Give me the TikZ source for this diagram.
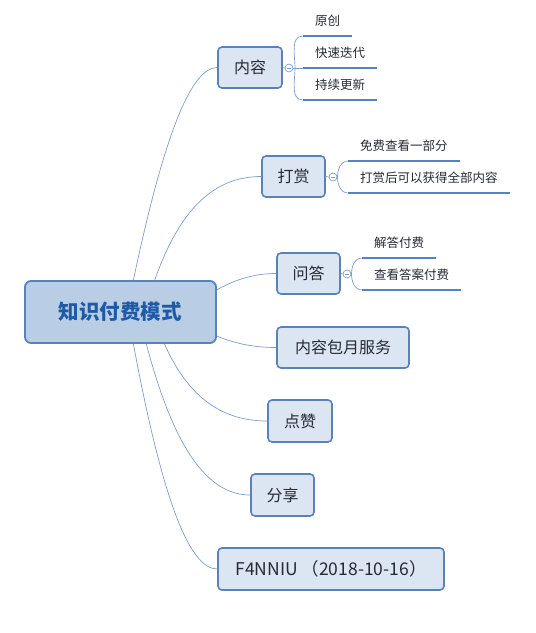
\documentclass[tikz,border=0pt]{standalone}
\usepackage{fontspec}
\setmainfont{Noto Sans CJK SC}
\definecolor{nodefill}{HTML}{DCE6F2}
\definecolor{rootfill}{HTML}{B9CDE5}
\definecolor{nodeborder}{HTML}{5A82B8}
\definecolor{roottext}{HTML}{1F5AA6}
\definecolor{nodetext}{HTML}{262A33}
\definecolor{linkcol}{HTML}{7F9DCB}
\definecolor{ulcol}{HTML}{5283C2}
\begin{document}
\begin{tikzpicture}[x=1pt,y=-1pt,
  topic/.style={draw=nodeborder,line width=1.6pt,fill=nodefill,rounded corners=4pt,
    minimum height=41pt,inner sep=0pt,text=nodetext,font=\fontsize{16}{18}\selectfont},
  rootbox/.style={draw=nodeborder,line width=1.8pt,fill=rootfill,rounded corners=6pt,
    minimum width=191pt,minimum height=62pt,inner sep=0pt,text=roottext,
    font=\fontsize{20.5}{24}\selectfont\bfseries},
  link/.style={draw=linkcol,line width=0.7pt},
  sublabel/.style={anchor=south west,inner xsep=12pt,inner ysep=0pt,text height=12pt,
    text depth=10pt,text=nodetext,font=\fontsize{12.5}{14}\selectfont},
  uline/.style={draw=ulcol,line width=2.5pt},
  fold/.style={circle,draw=linkcol,line width=0.7pt,fill=white,minimum size=8pt,inner sep=0pt}
]
\useasboundingbox (0,0) rectangle (536,633);

% root and topics
\node[rootbox] (root) at (120.5,312) {知识付费模式};
\node[topic,minimum width=64pt] (n1) at (250,67.5) {内容};
\node[topic,minimum width=63pt] (n2) at (293.5,176.5) {打赏};
\node[topic,minimum width=63pt] (n3) at (308.5,273.5) {问答};
\node[topic,minimum width=132pt] (n4) at (343,347.5) {内容包月服务};
\node[topic,minimum width=64pt,minimum height=42pt] (n5) at (300,421) {点赞};
\node[topic,minimum width=63pt,minimum height=42pt] (n6) at (282.5,495) {分享};
\node[topic,minimum width=226pt,minimum height=42pt,font=\fontsize{17.5}{20}\selectfont] (n7) at (331,569) {F4NNIU （2018-10-16）};

% root connectors
\draw[link] (root.68) .. controls +(30,-142) and +(-26.7,0) .. (n1.west);
\draw[link] (root.43.6) .. controls +(24.7,-70) and +(-48,0) .. (n2.west);
\draw[link] (root.13.5) .. controls +(19.3,-10.7) and +(-21.3,0) .. (n3.west);
\draw[link] (root.-14.1) .. controls +(19.3,8) and +(-21.3,0) .. (n4.west);
\draw[link] (root.-36.1) .. controls +(23.3,52) and +(-46.7,0) .. (n5.west);
\draw[link] (root.-51.7) .. controls +(26.7,101.3) and +(-44,0) .. (n6.west);
\draw[link] (root.-68) .. controls +(28,150.7) and +(-28.7,0) .. (n7.west);

% 内容 children
\node[fold] (f1) at (289,68) {};
\coordinate (j1) at (295,68);
\node[sublabel] (s11) at (303,36) {原创};
\node[sublabel] (s12) at (303,68) {快速迭代};
\node[sublabel] (s13) at (303,100) {持续更新};
\draw[link] (n1.east) -- (f1.west);
\draw[link] ([xshift=-2.2pt]f1.center) -- ([xshift=2.2pt]f1.center);
\draw[link] (f1.east) -- (s12.south west);
\draw[link] (s11.south west) to[out=180,in=90] (j1) to[out=-90,in=180] (s13.south west);
\draw[uline] (s11.south west) -- (s11.south east);
\draw[uline] (s12.south west) -- (s12.south east);
\draw[uline] (s13.south west) -- (s13.south east);

% 打赏 children
\node[fold] (f2) at (333,177) {};
\coordinate (j2) at (337.5,177);
\node[sublabel] (s21) at (348,161) {免费查看一部分};
\node[sublabel] (s22) at (348,193) {打赏后可以获得全部内容};
\draw[link] (n2.east) -- (f2.west);
\draw[link] ([xshift=-2.2pt]f2.center) -- ([xshift=2.2pt]f2.center);
\draw[link] (s21.south west) to[out=180,in=90] (j2) to[out=-90,in=180] (s22.south west);
\draw[uline] (s21.south west) -- (s21.south east);
\draw[uline] (s22.south west) -- (s22.south east);

% 问答 children
\node[fold] (f3) at (347,274) {};
\coordinate (j3) at (351.5,274);
\node[sublabel] (s31) at (362,258) {解答付费};
\node[sublabel] (s32) at (362,290) {查看答案付费};
\draw[link] (n3.east) -- (f3.west);
\draw[link] ([xshift=-2.2pt]f3.center) -- ([xshift=2.2pt]f3.center);
\draw[link] (s31.south west) to[out=180,in=90] (j3) to[out=-90,in=180] (s32.south west);
\draw[uline] (s31.south west) -- (s31.south east);
\draw[uline] (s32.south west) -- (s32.south east);
\end{tikzpicture}
\end{document}
